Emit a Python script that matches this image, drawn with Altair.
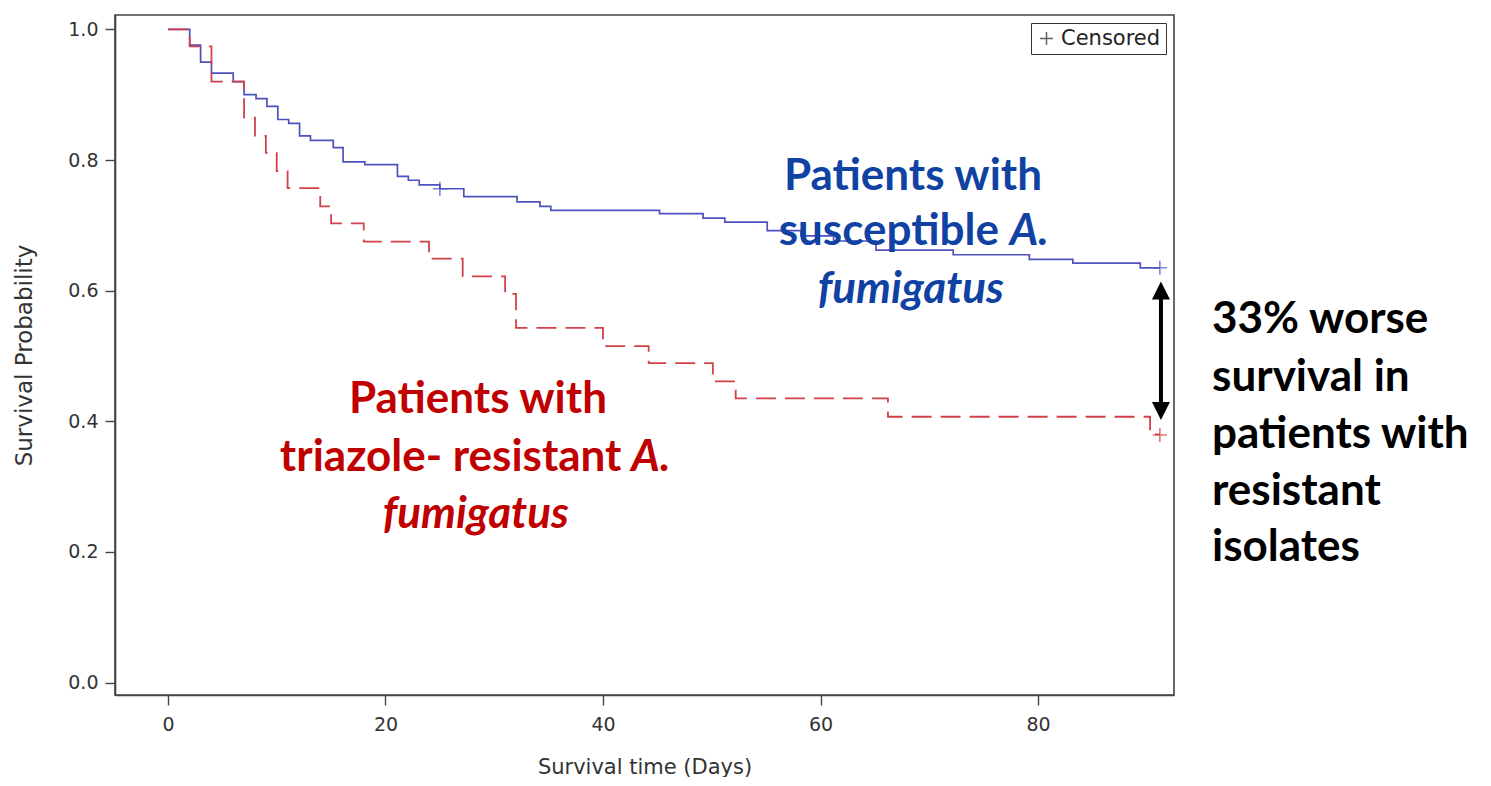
import altair as alt
import pandas as pd

# ---- data ----
blue_days = [0, 2.0, 3.0, 4.0, 6.0, 7.0, 8.1, 9.1, 10.1, 11.1, 12.1, 13.1, 15.2, 16.1, 18.1,
             21.1, 22.1, 23.1, 25.0, 27.2, 32.1, 34.2, 35.2, 45.2, 49.2, 51.2, 55.1, 58.2,
             61.2, 65.1, 72.2, 79.2, 83.2, 89.4, 91.2]
blue_surv = [1.0, 0.976, 0.950, 0.933, 0.920, 0.900, 0.894, 0.882, 0.862, 0.856, 0.837, 0.830,
             0.819, 0.797, 0.793, 0.775, 0.769, 0.762, 0.756, 0.744, 0.736, 0.729, 0.723,
             0.718, 0.711, 0.705, 0.692, 0.684, 0.676, 0.662, 0.655, 0.648, 0.642, 0.635, 0.635]
red_days = [0, 2.0, 4.0, 7.0, 8.0, 9.0, 10.0, 11.0, 14.0, 15.0, 18.0, 24.0, 27.1, 31.0, 32.0,
            40.0, 44.2, 50.1, 52.2, 66.2, 90.3, 91.2]
red_surv = [1.0, 0.974, 0.920, 0.865, 0.837, 0.811, 0.783, 0.757, 0.729, 0.703, 0.675, 0.649,
            0.622, 0.595, 0.543, 0.515, 0.489, 0.461, 0.435, 0.407, 0.380, 0.380]

censor_group = ["Susceptible", "Susceptible", "Resistant"]
censor_days = [25.0, 91.2, 91.2]
censor_surv = [0.756, 0.635, 0.379]

x_ticks = [0, 20, 40, 60, 80]
y_ticks = [0.0, 0.2, 0.4, 0.6, 0.8, 1.0]

BLUE = "#4d52bc"
RED = "#d3404a"
BLUE_TXT = "#0f42a3"
RED_TXT = "#c00000"
AX_FONT = "DejaVu Sans"

blue_df = pd.DataFrame({"day": blue_days, "surv": blue_surv, "group": "Susceptible"})
red_df = pd.DataFrame({"day": red_days, "surv": red_surv, "group": "Resistant"})
cens_df = pd.DataFrame({"day": censor_days, "surv": censor_surv, "group": censor_group,
                        "label": ["Censored"] * 3})

xs = alt.Scale(domain=[-4.87, 92.5], nice=False, zero=False)
ys = alt.Scale(domain=[-0.019, 1.022], nice=False, zero=False)
col_scale = alt.Scale(domain=["Susceptible", "Resistant"], range=[BLUE, RED])

X = alt.X("day:Q", scale=xs, title="Survival time (Days)",
          axis=alt.Axis(values=x_ticks, format="d", labelPadding=10, titlePadding=22))
Y = alt.Y("surv:Q", scale=ys, title="Survival Probability",
          axis=alt.Axis(values=y_ticks, format=".1f", labelPadding=7, titlePadding=31,
                        titleFontSize=23))

blue_line = alt.Chart(blue_df).mark_line(interpolate="step-after", strokeWidth=1.7,
                                         color=BLUE).encode(x=X, y=Y)
red_line = alt.Chart(red_df).mark_line(interpolate="step-after", strokeWidth=1.8,
                                       color=RED, strokeDash=[20, 9]).encode(x="day:Q", y="surv:Q")

plus_path = "M-1,0H1M0,-1V1"
censor = alt.Chart(cens_df).mark_point(filled=False, strokeWidth=1.6, size=200).encode(
    x="day:Q", y="surv:Q",
    color=alt.Color("group:N", scale=col_scale, legend=None),
    shape=alt.Shape("label:N", scale=alt.Scale(domain=["Censored"], range=[plus_path]),
                    legend=alt.Legend(title=None, orient="top-right", offset=8,
                                      strokeColor="#333", padding=5,
                                      labelFont=AX_FONT, labelFontSize=21,
                                      labelColor="#222", symbolSize=170,
                                      symbolStrokeColor="#222", symbolStrokeWidth=1.5,
                                      symbolFillColor="transparent")),
)

# ---- double arrow ----
arrow_x = [91.3]
arrow_df = pd.DataFrame({"day": arrow_x, "top": [0.600], "bot": [0.416]})
shaft = alt.Chart(arrow_df).mark_rule(color="black", strokeWidth=4).encode(
    x="day:Q", y="top:Q", y2="bot:Q")
head_up = alt.Chart(pd.DataFrame({"day": arrow_x, "surv": [0.614]})).mark_point(
    shape="M0,0L-1,2L1,2Z", size=324, filled=True, color="black", opacity=1).encode(
    x="day:Q", y="surv:Q")
head_dn = alt.Chart(pd.DataFrame({"day": arrow_x, "surv": [0.402]})).mark_point(
    shape="M0,0L-1,-2L1,-2Z", size=324, filled=True, color="black", opacity=1).encode(
    x="day:Q", y="surv:Q")

# ---- annotations ----
FS = 44
def txt(text, day, surv, color, align="center", style="normal"):
    d = pd.DataFrame({"day": [day], "surv": [surv], "t": [text]})
    return alt.Chart(d).mark_text(font="Lato", fontSize=FS, fontWeight="bold",
                                  fontStyle=style, color=color, align=align,
                                  baseline="middle").encode(x="day:Q", y="surv:Q", text="t:N")

blue_lines = [
    txt("Patients with", 68.5, 0.774, BLUE_TXT),
    txt("susceptible", 76.4, 0.690, BLUE_TXT, align="right"),
    txt("A.", 77.4, 0.690, BLUE_TXT, align="left", style="italic"),
    txt("fumigatus", 68.3, 0.601, BLUE_TXT, style="italic"),
]
red_lines = [
    txt("Patients with", 28.5, 0.433, RED_TXT),
    txt("triazole- resistant", 41.7, 0.344, RED_TXT, align="right"),
    txt("A.", 42.6, 0.344, RED_TXT, align="left", style="italic"),
    txt("fumigatus", 28.3, 0.257, RED_TXT, style="italic"),
]
black_text = ["33% worse", "survival in", "patients with", "resistant", "isolates"]
black_y = [0.555, 0.466, 0.379, 0.292, 0.206]
black_lines = [txt(t, 96.0, yv, "black", align="left") for t, yv in zip(black_text, black_y)]

chart = alt.layer(
    blue_line, red_line, censor, shaft, head_up, head_dn,
    *blue_lines, *red_lines, *black_lines
).properties(
    width=1059, height=680,
    padding={"left": 5, "top": 7, "right": 0, "bottom": 0},
).configure_view(
    stroke="#444", strokeWidth=1.6
).configure_axis(
    labelFont=AX_FONT, labelFontSize=19, labelColor="#333",
    titleFont=AX_FONT, titleFontSize=21, titleFontWeight="normal", titleColor="#333",
    tickSize=10, tickColor="#444", domainColor="#444", domainWidth=1.6, tickWidth=1.4,
    grid=False,
)

chart.save("out.html", embed_options={"renderer": "svg", "actions": False})
